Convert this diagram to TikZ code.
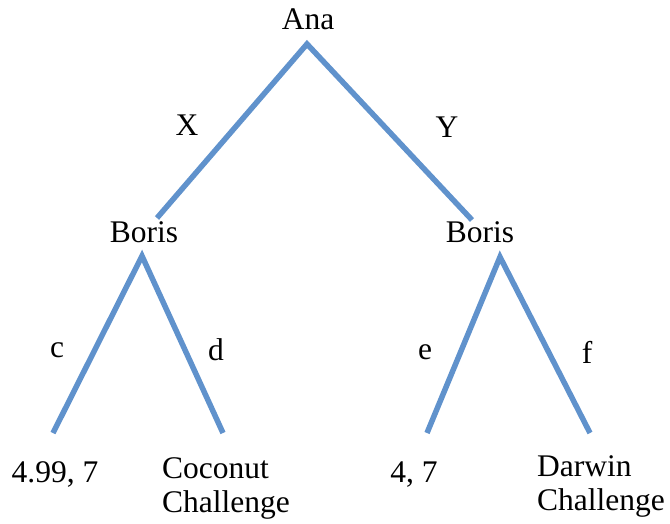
\documentclass[tikz,border=0pt]{standalone}
\usepackage{fontspec}
\setmainfont{Liberation Serif}
\definecolor{edgeblue}{RGB}{96,146,204}
\begin{document}
\begin{tikzpicture}[x=1pt,y=-1pt,
  lbl/.style={font=\fontsize{31.5}{34}\selectfont, inner sep=0pt, text=black},
  edge/.style={draw=edgeblue, line width=5.5pt}]
\useasboundingbox (0,0) rectangle (670,523);
% texts
\node[lbl] (ana) at (308,19) {Ana};
\node[lbl] (borisL) at (144,232) {Boris};
\node[lbl] (borisR) at (480,232) {Boris};
\node[lbl] (X) at (187,125) {X};
\node[lbl] (Y) at (447,127) {Y};
\node[lbl] (c) at (57,350) {c};
\node[lbl] (d) at (216,350) {d};
\node[lbl] (e) at (425,352) {e};
\node[lbl] (f) at (587,352) {f};
\node[lbl, anchor=base] (l1) at (55,482) {4.99, 7};
\node[lbl, align=left, anchor=north west] (l2) at (162,457) {Coconut\\Challenge};
\node[lbl, anchor=base] (l3) at (414,482) {4, 7};
\node[lbl, align=left, anchor=north west] (l4) at (537,455) {Darwin\\Challenge};
% connector points
\coordinate (a0) at (307,44);
\coordinate (a1) at (157,218);
\coordinate (a2) at (472,220);
\coordinate (b0) at (142,256);
\coordinate (b1) at (53,433);
\coordinate (b2) at (223,433);
\coordinate (c0) at (500,257);
\coordinate (c1) at (427,433);
\coordinate (c2) at (590,433);
\draw[edge] (a1) -- (a0) -- (a2);
\draw[edge] (b1) -- (b0) -- (b2);
\draw[edge] (c1) -- (c0) -- (c2);
\end{tikzpicture}
\end{document}
